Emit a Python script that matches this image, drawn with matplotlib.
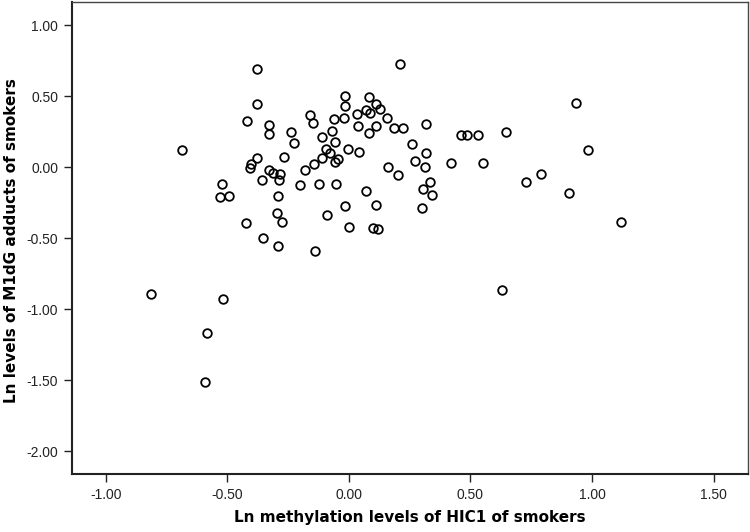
import matplotlib
matplotlib.use("Agg")
import matplotlib.pyplot as plt

x_methylation = [
    -0.379, -0.379, -0.420, -0.328, -0.328, -0.240, -0.225, -0.688, -0.379, -0.402,
    -0.405, -0.268, -0.327, -0.314, -0.282, -0.288, -0.356, -0.523, -0.530, -0.492,
    -0.291, -0.295, -0.277, -0.423, -0.353, -0.290, -0.141, -0.160, -0.147, -0.109,
    -0.071, -0.063, -0.022, -0.016, -0.017, -0.058, -0.095, -0.078, -0.110, -0.145,
    -0.044, -0.058, -0.005, 0.041, -0.181, -0.201, -0.122, -0.051, -0.014, -0.088,
    0.000, 0.071, 0.112, 0.098, 0.119, 0.035, 0.069, 0.088, 0.083, 0.111,
    0.039, 0.084, 0.111, 0.129, 0.211, 0.156, 0.185, 0.223, 0.316, 0.260,
    0.316, 0.271, 0.312, 0.162, 0.201, 0.333, 0.303, 0.342, 0.299, 0.459,
    0.485, 0.531, 0.648, 0.421, 0.553, 0.730, 0.788, 0.904, 0.933, 0.982,
    1.118, -0.814, -0.517, -0.582, -0.592, 0.628,
]
y_m1dg = [
    0.690, 0.447, 0.326, 0.296, 0.232, 0.244, 0.167, 0.118, 0.061, 0.021,
    -0.009, 0.073, -0.021, -0.040, -0.047, -0.092, -0.088, -0.122, -0.209, -0.206,
    -0.201, -0.322, -0.385, -0.392, -0.500, -0.554, -0.589, 0.368, 0.313, 0.213,
    0.257, 0.338, 0.345, 0.504, 0.428, 0.174, 0.129, 0.102, 0.061, 0.023,
    0.058, 0.034, 0.125, 0.109, -0.018, -0.128, -0.120, -0.120, -0.271, -0.338,
    -0.420, -0.167, -0.265, -0.432, -0.437, 0.371, 0.399, 0.378, 0.493, 0.445,
    0.289, 0.239, 0.289, 0.407, 0.723, 0.343, 0.276, 0.276, 0.301, 0.165,
    0.101, 0.042, 0.000, 0.004, -0.053, -0.104, -0.156, -0.194, -0.290, 0.229,
    0.229, 0.229, 0.249, 0.030, 0.030, -0.104, -0.047, -0.181, 0.449, 0.118,
    -0.387, -0.896, -0.927, -1.171, -1.516, -0.868,
]

x_ticks = [-1.0, -0.5, 0.0, 0.5, 1.0, 1.5]
y_ticks = [1.0, 0.5, 0.0, -0.5, -1.0, -1.5, -2.0]
x_label = "Ln methylation levels of HIC1 of smokers"
y_label = "Ln levels of M1dG adducts of smokers"

fig = plt.figure(figsize=(7.5, 5.32), dpi=100)
ax = fig.add_axes([0.096, 0.109, 0.901, 0.887])

ax.plot(x_methylation, y_m1dg, linestyle="none", marker="o", markersize=6.2,
        markerfacecolor="none", markeredgecolor="black", markeredgewidth=1.3)

ax.set_xlim(-1.1385, 1.640)
ax.set_ylim(-2.162, 1.162)
ax.set_xticks(x_ticks)
ax.set_yticks(y_ticks)
ax.set_xticklabels([f"{v:.2f}" for v in x_ticks], fontfamily="Liberation Sans", fontsize=10)
ax.set_yticklabels([f"{v:.2f}" for v in y_ticks], fontfamily="Liberation Sans", fontsize=10)
ax.tick_params(axis="both", direction="out", length=6, width=1.0, colors="#222222", pad=4)

for side in ["left", "bottom"]:
    ax.spines[side].set_linewidth(1.5)
    ax.spines[side].set_color("#222222")
for side in ["top", "right"]:
    ax.spines[side].set_linewidth(1.0)
    ax.spines[side].set_color("#444444")

ax.set_xlabel(x_label, fontfamily="DejaVu Sans", fontweight="bold", fontsize=11, labelpad=6)
ax.set_ylabel(y_label, fontfamily="DejaVu Sans", fontweight="bold", fontsize=11)
ax.yaxis.set_label_coords(-0.078, 0.495)

fig.savefig("out.png", dpi=100)
